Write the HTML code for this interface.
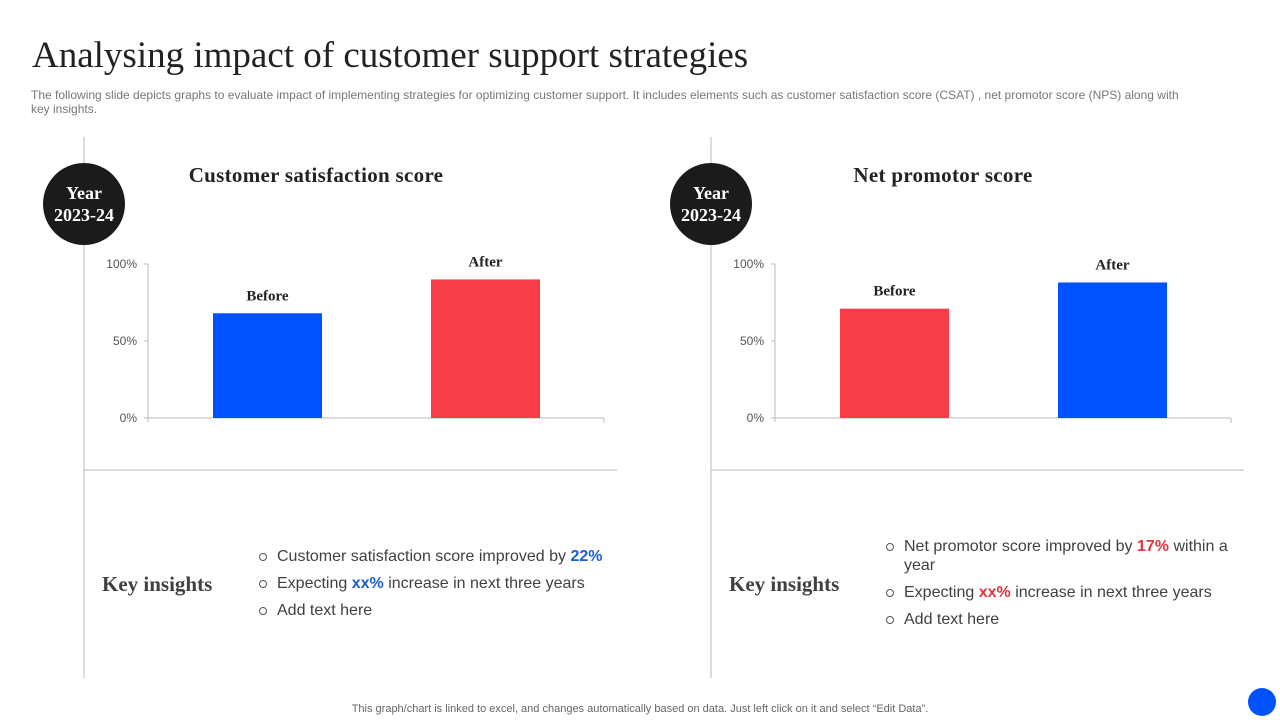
<!DOCTYPE html>
<html><head><meta charset="utf-8"><style>
body{margin:0;width:1280px;height:720px;background:#fff;position:relative;overflow:hidden;font-family:"Liberation Sans",sans-serif}
.abs{position:absolute}
h1{position:absolute;left:32px;top:34px;margin:0;font-family:"Liberation Serif",serif;font-weight:normal;font-size:37px;color:#222}
.sub{left:31px;top:88px;width:1160px;font-size:12px;color:#777;line-height:14px}
.ki{font-family:"Liberation Serif",serif;font-weight:bold;font-size:21px;color:#404040}
ul{list-style:none;margin:0;padding:0;font-size:16px;color:#404040}
li{position:relative;padding-left:20px;line-height:19px;margin-bottom:8px}
li:before{content:"";position:absolute;left:2px;top:6px;width:6px;height:6px;border:1px solid #555;border-radius:50%}
.b{color:#1a5fd0;font-weight:bold}.r{color:#e0343f;font-weight:bold}
</style></head><body>
<h1>Analysing impact of customer support strategies</h1>
<div class="abs sub">The following slide depicts graphs to evaluate impact of implementing strategies for optimizing customer support. It includes elements such as customer satisfaction score (CSAT) , net promotor score (NPS) along with key insights.</div>
<svg id="svg" class="abs" style="left:0;top:0" width="1280" height="720"></svg>
<div class="abs ki" style="left:102px;top:572px">Key insights</div>
<ul class="abs" style="left:257px;top:547px;width:370px">
<li>Customer satisfaction score improved by <span class="b">22%</span></li>
<li>Expecting <span class="b">xx%</span> increase in next three years</li>
<li>Add text here</li></ul>
<div class="abs ki" style="left:729px;top:572px">Key insights</div>
<ul class="abs" style="left:884px;top:537px;width:350px">
<li>Net promotor score improved by <span class="r">17%</span> within a year</li>
<li>Expecting <span class="r">xx%</span> increase in next three years</li>
<li>Add text here</li></ul>
<div class="abs" style="left:0;width:1280px;top:703px;text-align:center;font-size:11px;color:#666">This graph/chart is linked to excel, and changes automatically based on data. Just left click on it and select “Edit Data”.</div>
<div class="abs" style="left:1248px;top:688px;width:28px;height:28px;border-radius:50%;background:#0052ff"></div>
<script>
const categories=["Before","After"];
const csatValues=[68,90];
const npsValues=[71,88];
const tickLabels=["0%","50%","100%"];
const tickValues=[0,50,100];
const svg=document.getElementById('svg');
const NS="http://www.w3.org/2000/svg";
function mk(t,a,txt){const e=document.createElementNS(NS,t);for(const k in a)e.setAttribute(k,a[k]);if(txt!=null)e.textContent=txt;svg.appendChild(e);return e;}
function chart(ox,title,vals,colors,key){
  const x0=ox+148,x1=ox+604,yb=418,yt=264;
  const y=v=>yb-(v/100)*(yb-yt);
  const step=218,first=119.5;
  let e;
  e=mk('line',{x1:ox+84,y1:137,x2:ox+84,y2:678,stroke:'#bbb'});
  e=mk('line',{x1:ox+84,y1:470,x2:ox+617,y2:470,stroke:'#bbb'});
  e=mk('circle',{cx:ox+84,cy:204,r:41,fill:'#1b1b1b'});
  e=mk('text',{x:ox+84,y:199,'text-anchor':'middle','font-family':'Liberation Serif,serif','font-weight':'bold','font-size':18,fill:'#fff'},'Year');
  e=mk('text',{x:ox+84,y:221,'text-anchor':'middle','font-family':'Liberation Serif,serif','font-weight':'bold','font-size':18,fill:'#fff'},'2023-24');
  e=mk('text',{x:ox+316,y:182,'text-anchor':'middle','font-family':'Liberation Serif,serif','font-weight':'bold','font-size':21,'letter-spacing':'0.3',fill:'#222'},title);
  e=mk('line',{x1:x0,y1:yt,x2:x0,y2:yb+4,stroke:'#bbb'});
  e=mk('line',{x1:x0,y1:yb,x2:x1,y2:yb,stroke:'#bbb'});
  e=mk('line',{x1:x1,y1:yb,x2:x1,y2:yb+5,stroke:'#bbb'});
  tickValues.forEach((v,i)=>{
    e=mk('line',{x1:x0-4,y1:y(v),x2:x0,y2:y(v),stroke:'#bbb'});
    e=mk('text',{x:x0-11,y:y(v)+4,'text-anchor':'end','font-size':12,fill:'#555'},tickLabels[i]);
  });
  vals.forEach((v,i)=>{
    const cx=x0+first+step*i,w=109;
    e=mk('rect',{x:cx-w/2,y:y(v),width:w,height:yb-y(v),fill:colors[i]});
    e=mk('text',{x:cx,y:y(v)-13,'text-anchor':'middle','font-family':'Liberation Serif,serif','font-weight':'bold','font-size':15,fill:'#222'},categories[i]);
  });
}
chart(0,'Customer satisfaction score',csatValues,['#0052ff','#f73e48'],'csat');
chart(627,'Net promotor score',npsValues,['#f73e48','#0052ff'],'nps');
</script>
</body></html>
